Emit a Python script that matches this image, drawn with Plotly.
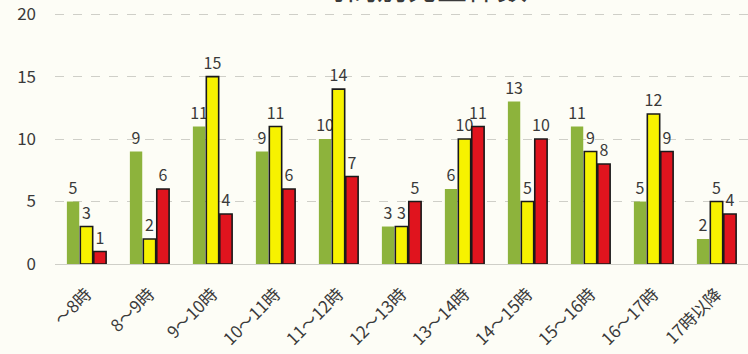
import plotly.graph_objects as go

# 時間帯ごとの発生件数（3系列）
categories = ["～8時", "8～9時", "9～10時", "10～11時", "11～12時", "12～13時",
              "13～14時", "14～15時", "15～16時", "16～17時", "17時以降"]
series_a = [5, 9, 11, 9, 10, 3, 6, 13, 11, 5, 2]
series_b = [3, 2, 15, 11, 14, 3, 10, 5, 9, 12, 5]
series_c = [1, 6, 4, 6, 7, 5, 11, 10, 8, 9, 4]
y_ticks = [0, 5, 10, 15, 20]

FONT = "Noto Sans CJK JP"
TEXT = "#3a3a3a"
GRID = "#cfcfc8"

fig = go.Figure()
for vals, fill, edge in [
    (series_a, "#8db33c", "rgba(0,0,0,0)"),
    (series_b, "#f7f200", "#1a1a1a"),
    (series_c, "#e0141e", "#1a1a1a"),
]:
    fig.add_trace(go.Bar(
        x=categories, y=vals,
        marker=dict(color=fill, line=dict(color=edge, width=1.6)),
        text=[str(v) for v in vals], textposition="outside",
        textfont=dict(family=FONT, size=16, color=TEXT),
        constraintext="none", cliponaxis=False,
    ))

fig.add_annotation(
    text="時間別発生件数", xref="paper", yref="paper", x=0.53, y=1,
    xanchor="center", yanchor="bottom", yshift=0, showarrow=False,
    font=dict(family=FONT, size=30, color=TEXT),
)

fig.update_layout(
    width=748, height=354,
    margin=dict(l=55, r=0, t=10, b=90),
    paper_bgcolor="#fdfdf6", plot_bgcolor="#fdfdf6",
    barmode="group", bargap=0.36, bargroupgap=0.08,
    showlegend=False,
    font=dict(family=FONT, color=TEXT),
)
fig.update_yaxes(
    range=[0, 20.33], tickvals=y_ticks, showgrid=True,
    gridcolor=GRID, griddash="dash", gridwidth=1,
    zeroline=True, zerolinecolor=GRID, zerolinewidth=1,
    ticks="", ticklabelstandoff=18,
    tickfont=dict(family=FONT, size=17, color=TEXT),
)
fig.update_xaxes(
    tickangle=-45, showline=False, ticks="", ticklabelstandoff=16,
    tickfont=dict(family=FONT, size=17, color=TEXT),
)

fig.write_html("out.html")
